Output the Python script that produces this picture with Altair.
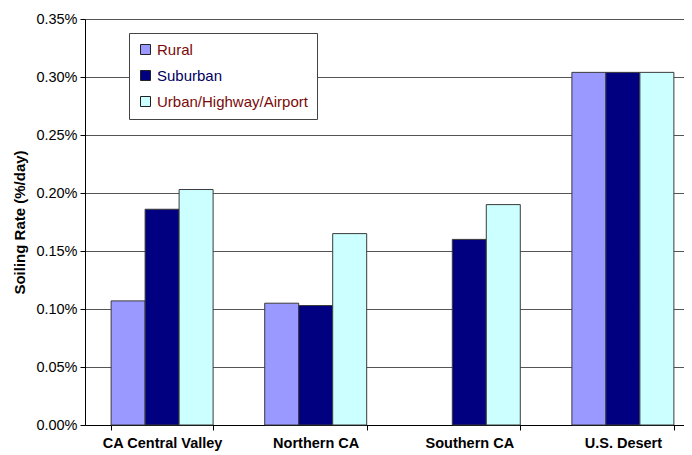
import altair as alt
import pandas as pd

regions = ["CA Central Valley", "Northern CA", "Southern CA", "U.S. Desert"]
types = ["Rural", "Suburban", "Urban/Highway/Airport"]
rural = [0.107, 0.105, None, 0.304]
suburban = [0.186, 0.103, 0.160, 0.304]
urban = [0.203, 0.165, 0.190, 0.304]
colors = ["#9999FF", "#000080", "#CCFFFF"]

rows = []
for i, r in enumerate(regions):
    for t, vals in zip(types, [rural, suburban, urban]):
        if vals[i] is not None:
            rows.append({"region": r, "type": t, "value": vals[i]})
df = pd.DataFrame(rows)

FONT = "Liberation Sans"

chart = alt.Chart(df).mark_bar(stroke="#3a3a3a", strokeWidth=1).encode(
    x=alt.X("region:N", sort=regions, title=None,
            scale=alt.Scale(paddingInner=0.336, paddingOuter=0.17, range=[0, 615]),
            axis=alt.Axis(labelAngle=0, labelFont=FONT, labelFontSize=14.5,
                          labelFontWeight="bold", labelColor="black",
                          tickBand="extent", tickColor="black", tickSize=5,
                          domainColor="black", labelPadding=6, grid=False)),
    xOffset=alt.XOffset("type:N", sort=types, scale=alt.Scale(domain=types, paddingInner=0, paddingOuter=0)),
    y=alt.Y("value:Q", title="Soiling Rate (%/day)",
            scale=alt.Scale(domain=[0, 0.35], nice=False),
            axis=alt.Axis(values=[0, 0.05, 0.10, 0.15, 0.20, 0.25, 0.30, 0.35],
                          labelExpr="format(datum.value, '.2f') + '%'",
                          labelFont=FONT, labelFontSize=14.5, labelColor="black",
                          titleFont=FONT, titleFontSize=15, titleFontWeight="bold",
                          titleColor="black", titlePadding=8,
                          gridColor="#555555", gridWidth=1, tickColor="black",
                          tickSize=5, domainColor="black", labelPadding=3)),
    color=alt.Color("type:N", sort=types,
                    scale=alt.Scale(domain=types, range=colors),
                    legend=alt.Legend(title=None, orient="none", legendX=44, legendY=14,
                                      symbolType="square", symbolSize=100,
                                      symbolStrokeColor="#222222", symbolStrokeWidth=1,
                                      labelFont=FONT, labelFontSize=15,
                                      labelOffset=4, rowPadding=10,
                                      padding=9, strokeColor="#444444",
                                      fillColor="white", labelLimit=300,
                                      symbolOpacity=1,
                                      labelColor={"expr": "datum.label == 'Suburban' ? '#000060' : '#7a0a0a'"})),
).properties(
    width=599, height=406,
    padding={"left": 77, "top": 11, "right": 0, "bottom": 27},
    autosize=alt.AutoSizeParams(type="none"),
).configure_view(stroke=None)

chart.save("out.html", embed_options={"renderer": "svg", "actions": False})
